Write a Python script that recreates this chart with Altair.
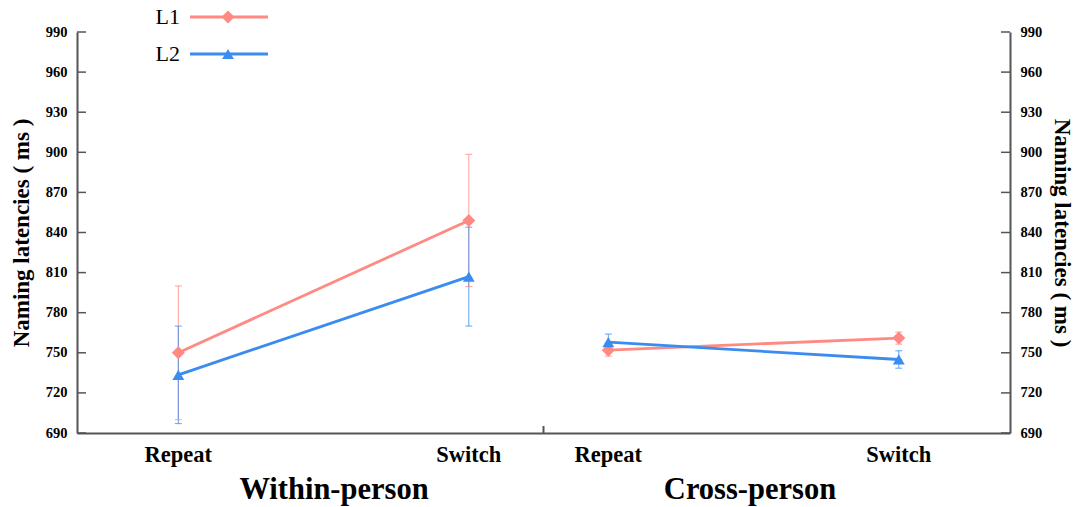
import altair as alt
import pandas as pd

# ---------------- data ----------------
GROUPS = ["Within-person", "Cross-person"]
CONDS = ["Repeat", "Switch"]
SERIES = ["L1", "L2"]
# order: Within-Repeat, Within-Switch, Cross-Repeat, Cross-Switch
L1_MEAN = [750, 849, 752, 761]
L1_ERR = [50, 49.5, 4.5, 4.5]
L2_MEAN = [733.5, 807, 758, 745]
L2_ERR = [36.5, 37, 6, 6.5]
Y_TICKS = [690, 720, 750, 780, 810, 840, 870, 900, 930, 960, 990]

COLORS = ["#FF8A84", "#3A8CF0"]
SHAPES = ["diamond", "triangle-up"]
AX = "#555555"
FONT = "Liberation Serif"
W, H = 933, 401

rows = []
for s, means, errs in zip(SERIES, [L1_MEAN, L2_MEAN], [L1_ERR, L2_ERR]):
    i = 0
    for g in GROUPS:
        for c in CONDS:
            rows.append(dict(series=s, group=g, cond=c, mean=means[i],
                             lo=means[i] - errs[i], hi=means[i] + errs[i]))
            i += 1
df = pd.DataFrame(rows)
labels_df = df[df.series == SERIES[0]]
ticks_df = pd.DataFrame({"v": Y_TICKS})
one = pd.DataFrame({"a": [0]})

# ---------------- encodings ----------------
xenc = alt.X("group:N",
             scale=alt.Scale(type="band", domain=GROUPS, paddingInner=0, paddingOuter=0.0849),
             axis=alt.Axis(title=None, labels=False, ticks=False, domainColor=AX, domainWidth=2))
xoff = alt.XOffset("cond:N", scale=alt.Scale(type="point", domain=CONDS, range=[64.8, 355.3], padding=0))
yscale = alt.Scale(domain=[690, 990], nice=False, zero=False)
color = alt.Color("series:N", scale=alt.Scale(domain=SERIES, range=COLORS), legend=None)
shape = alt.Shape("series:N", scale=alt.Scale(domain=SERIES, range=SHAPES), legend=None)
size = alt.Size("series:N", scale=alt.Scale(domain=SERIES, range=[170, 140]), legend=None)

left_axis = alt.Axis(orient="left", values=Y_TICKS, ticks=False, grid=False,
                     domainColor=AX, domainWidth=2,
                     labelFont=FONT, labelFontWeight="bold", labelFontSize=14.5, labelColor="black",
                     labelPadding=10,
                     title="Naming latencies ( ms )", titleFont=FONT, titleFontSize=23,
                     titleFontWeight="bold", titleColor="black", titlePadding=12)
right_axis = alt.Axis(orient="right", values=Y_TICKS, ticks=False, grid=False,
                      domainColor=AX, domainWidth=2,
                      labelFont=FONT, labelFontWeight="bold", labelFontSize=14.5, labelColor="black",
                      labelPadding=10,
                      title="Naming latencies ( ms )", titleFont=FONT, titleFontSize=23,
                      titleFontWeight="bold", titleColor="black", titlePadding=8)

base = alt.Chart(df)

err_rule = base.mark_rule(strokeWidth=1, opacity=0.8).encode(
    x=xenc, xOffset=xoff,
    y=alt.Y("lo:Q", scale=yscale, axis=None), y2="hi:Q", color=color)
cap_lo = base.mark_tick(thickness=1, size=7, opacity=0.8).encode(
    x=xenc, xOffset=xoff, y=alt.Y("lo:Q", scale=yscale, axis=None), color=color)
cap_hi = base.mark_tick(thickness=1, size=7, opacity=0.8).encode(
    x=xenc, xOffset=xoff, y=alt.Y("hi:Q", scale=yscale, axis=None), color=color)

lines = base.mark_line(strokeWidth=2.8).encode(
    x=xenc, xOffset=xoff,
    y=alt.Y("mean:Q", scale=yscale, axis=left_axis),
    color=color, detail="group:N")

points = base.mark_point(filled=True, opacity=1).encode(
    x=xenc, xOffset=xoff, y=alt.Y("mean:Q", scale=yscale, axis=None),
    color=color, shape=shape, size=size)

ticks_left = alt.Chart(ticks_df).mark_rule(color=AX, strokeWidth=1.5).encode(
    y=alt.Y("v:Q", scale=yscale, axis=None), x=alt.value(0), x2=alt.value(9))
ticks_right = alt.Chart(ticks_df).mark_rule(color=AX, strokeWidth=1.5).encode(
    y=alt.Y("v:Q", scale=yscale, axis=right_axis), x=alt.value(W - 9), x2=alt.value(W))

divider = alt.Chart(one).mark_rule(color=AX, strokeWidth=2).encode(
    x=alt.value(466.5), y=alt.value(H - 7), y2=alt.value(H))

cond_labels = alt.Chart(labels_df).mark_text(
    font=FONT, fontSize=22.5, fontWeight="bold", color="black", baseline="middle").encode(
    x=xenc, xOffset=xoff, y=alt.value(H + 22), text="cond:N")

layers = [err_rule, cap_lo, cap_hi, lines, points, ticks_left, ticks_right, divider, cond_labels]

TITLE_X = [257, 673]
for g, tx in zip(GROUPS, TITLE_X):
    layers.append(
        alt.Chart(pd.DataFrame({"t": [g]})).mark_text(
            font=FONT, fontSize=30.5, fontWeight="bold", color="black", baseline="middle").encode(
            x=alt.value(tx), y=alt.value(H + 57), text="t:N"))

# legend drawn by hand (label left, line + marker right)
for i, s in enumerate(SERIES):
    yrow = -15 + 37 * i
    ldf = pd.DataFrame({"series": [s]})
    layers.append(alt.Chart(ldf).mark_rule(strokeWidth=2.8).encode(
        x=alt.value(113), x2=alt.value(191), y=alt.value(yrow), color=color))
    layers.append(alt.Chart(ldf).mark_point(filled=True, opacity=1).encode(
        x=alt.value(151), y=alt.value(yrow), color=color, shape=shape, size=size))
    layers.append(alt.Chart(ldf).mark_text(
        font=FONT, fontSize=22, color="black", align="right", baseline="middle").encode(
        x=alt.value(103), y=alt.value(yrow), text="series:N"))

chart = alt.layer(*layers).properties(
    width=W, height=H,
    padding={"left": 77, "top": 32, "right": 68, "bottom": 74},
    autosize=alt.AutoSizeParams(type="none"),
    background="white",
).resolve_axis(y="independent").configure_view(stroke=None)

chart.save("out.html", embed_options={"renderer": "svg", "actions": False})
